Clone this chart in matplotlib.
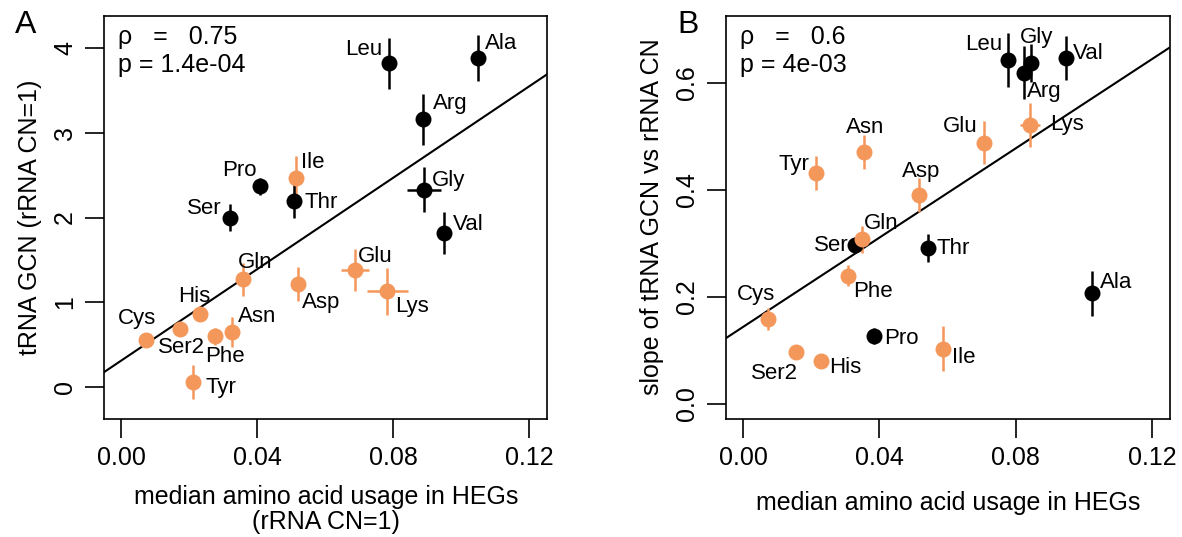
import matplotlib
matplotlib.use("Agg")
import matplotlib.pyplot as plt
import numpy as np

plt.rcParams["font.family"] = ["Liberation Sans", "DejaVu Sans"]

ORANGE = "#F4975A"

# amino acids (same order for both panels)
amino = ["Leu", "Ala", "Arg", "Ile", "Pro", "Thr", "Ser", "Gly", "Val", "Gln",
         "Glu", "Asp", "Lys", "His", "Cys", "Ser2", "Phe", "Asn", "Tyr"]
is_orange = [0, 0, 0, 1, 0, 0, 0, 0, 0, 1, 1, 1, 1, 1, 1, 1, 1, 1, 1]

# panel A: tRNA GCN vs median usage (rRNA CN=1)
a_x = [0.0788, 0.105, 0.0888, 0.0515, 0.041, 0.0509, 0.032, 0.089, 0.095, 0.036,
       0.0688, 0.052, 0.0783, 0.0233, 0.0073, 0.0174, 0.0277, 0.0327, 0.0213]
a_y = [3.82, 3.88, 3.16, 2.47, 2.37, 2.19, 2.00, 2.33, 1.82, 1.27,
       1.38, 1.22, 1.13, 0.86, 0.56, 0.69, 0.60, 0.65, 0.06]
a_yerr = [0.30, 0.27, 0.30, 0.25, 0.10, 0.20, 0.16, 0.27, 0.25, 0.19,
          0.25, 0.20, 0.28, 0.08, 0.07, 0.05, 0.10, 0.18, 0.20]
a_xerr = [0, 0, 0, 0, 0, 0, 0, 0.005, 0, 0,
          0.004, 0, 0.006, 0, 0, 0, 0, 0, 0]
a_fit = (0.311, 26.95)  # intercept, slope
a_stats = ("0.75", "1.4e-04")

# panel B: slope of tRNA GCN vs rRNA CN
b_x = [0.0778, 0.1024, 0.0824, 0.0587, 0.0385, 0.0543, 0.0329, 0.0845, 0.0948, 0.0349,
       0.0707, 0.0516, 0.0842, 0.0229, 0.0073, 0.0155, 0.0308, 0.0355, 0.0214]
b_y = [0.643, 0.207, 0.619, 0.103, 0.127, 0.291, 0.297, 0.637, 0.647, 0.308,
       0.488, 0.391, 0.521, 0.080, 0.159, 0.097, 0.240, 0.471, 0.432]
b_yerr = [0.051, 0.042, 0.05, 0.042, 0.015, 0.026, 0.015, 0.036, 0.041, 0.025,
          0.04, 0.032, 0.041, 0, 0.02, 0, 0.02, 0.031, 0.032]
b_xerr = [0, 0, 0, 0, 0, 0, 0.002, 0, 0, 0,
          0, 0, 0.003, 0, 0, 0, 0, 0, 0]
b_fit = (0.144, 4.17)
b_stats = ("0.6", "4e-03")

# label placement (ha, dx px, dy px)
a_lab = {"Leu": ("right", -7, 14), "Ala": ("left", 7, 15), "Arg": ("left", 10, 16),
         "Ile": ("left", 5, 15), "Pro": ("right", -4, 16), "Thr": ("left", 10, -1),
         "Ser": ("right", -8, 9), "Gly": ("left", 8, 9), "Val": ("left", 9, 8),
         "Gln": ("left", -6, 17), "Glu": ("left", 3, 14), "Asp": ("left", 4, -19),
         "Lys": ("left", 8, -15), "His": ("left", -22, 18), "Cys": ("center", -9, 21),
         "Ser2": ("left", -22, -19), "Phe": ("left", -10, -20), "Asn": ("left", 6, 15),
         "Tyr": ("left", 12, -5)}
b_lab = {"Leu": ("right", -6, 15), "Gly": ("left", -11, 26), "Val": ("left", 7, 4),
         "Arg": ("left", 3, -19), "Lys": ("left", 20, 1), "Glu": ("right", -6, 16),
         "Asn": ("left", -18, 24), "Tyr": ("right", -7, 8), "Asp": ("left", -17, 23),
         "Gln": ("left", 2, 16), "Ser": ("right", -7, 0), "Thr": ("left", 8, 0),
         "Phe": ("left", 5, -16), "Cys": ("left", -31, 24), "Ala": ("left", 8, 11),
         "Pro": ("left", 10, -2), "Ile": ("left", 9, -9), "Ser2": ("left", -45, -21),
         "His": ("left", 8, -6)}

FS = 18


def panel(ax, xs, ys, xerr, yerr, fit, stats, labels, xlim, ylim, yticks, yfmt):
    for name, x, y, ex, ey, o in zip(amino, xs, ys, xerr, yerr, is_orange):
        c = ORANGE if o else "black"
        ax.errorbar(x, y, xerr=ex if ex else None, yerr=ey if ey else None,
                     fmt="o", color=c, ms=11.5, mew=0, elinewidth=1.8, capsize=0, zorder=3)
        ha, dx, dy = labels[name]
        ax.annotate(name, (x, y), xytext=(dx, dy), textcoords="offset pixels",
                    ha=ha, va="center", fontsize=16, zorder=4)
    xx = np.array(xlim)
    ax.plot(xx, fit[0] + fit[1] * xx, color="black", lw=1.5, zorder=2)
    ax.set_xlim(xlim)
    ax.set_ylim(ylim)
    ax.set_xticks([0.0, 0.04, 0.08, 0.12])
    ax.set_xticklabels(["0.00", "0.04", "0.08", "0.12"])
    ax.set_yticks(yticks)
    ax.set_yticklabels([yfmt.format(t) for t in yticks], rotation=90, va="center")
    ax.tick_params(length=13.5, width=1.2, labelsize=FS, pad=6)
    ax.tick_params(axis="x", pad=6)
    for s in ax.spines.values():
        s.set_linewidth(1.2)
    ax.text(0.032, 0.948, "\u03c1   =   " + stats[0], transform=ax.transAxes,
            fontsize=FS, va="center", ha="left")
    ax.text(0.032, 0.878, "p = " + stats[1], transform=ax.transAxes,
            fontsize=FS, va="center", ha="left")


W, H = 1182, 537
fig = plt.figure(figsize=(W / 100, H / 100), dpi=100)
axA = fig.add_axes([104 / W, 1 - 419 / H, 443 / W, 403 / H])
axB = fig.add_axes([726 / W, 1 - 419 / H, 444 / W, 403 / H])

panel(axA, a_x, a_y, a_xerr, a_yerr, a_fit, a_stats, a_lab,
      (-0.005, 0.1253), (-0.376, 4.376), [0, 1, 2, 3, 4], "{:d}")
panel(axB, b_x, b_y, b_xerr, b_yerr, b_fit, b_stats, b_lab,
      (-0.005, 0.1253), (-0.028, 0.725), [0.0, 0.2, 0.4, 0.6], "{:.1f}")

fig.text(26 / W, 1 - 25 / H, "A", fontsize=23, ha="center", va="center")
fig.text(688 / W, 1 - 25 / H, "B", fontsize=23, ha="center", va="center")

fig.text(30 / W, 1 - 217 / H, "tRNA GCN (rRNA CN=1)", rotation=90,
         fontsize=FS, ha="center", va="center")
fig.text(652 / W, 1 - 217 / H, "slope of tRNA GCN vs rRNA CN", rotation=90,
         fontsize=FS, ha="center", va="center")
fig.text(326 / W, 1 - 497 / H, "median amino acid usage in HEGs",
         fontsize=FS, ha="center", va="center")
fig.text(326 / W, 1 - 522 / H, "(rRNA CN=1)", fontsize=FS, ha="center", va="center")
fig.text(948 / W, 1 - 503 / H, "median amino acid usage in HEGs",
         fontsize=FS, ha="center", va="center")

fig.savefig("out.png", dpi=100)
